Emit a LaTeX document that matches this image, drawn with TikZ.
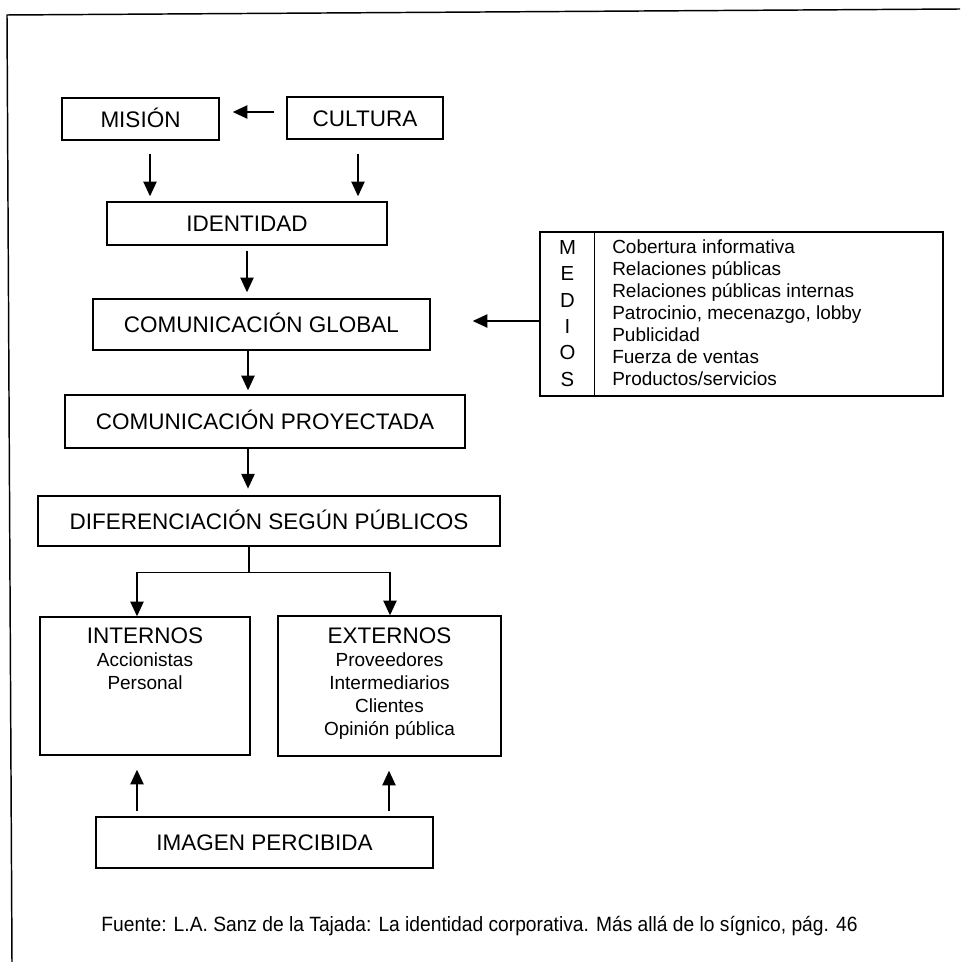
\documentclass[tikz,border=0pt]{standalone}
\usepackage{fontspec}
\usepackage{graphicx}
\setmainfont{Liberation Sans}
\usetikzlibrary{arrows.meta}
\begin{document}
\begin{tikzpicture}[x=0.75pt,y=-0.75pt,
  box/.style={draw, line width=1.1pt, inner sep=0pt, text height=12.1pt, text depth=0pt, font=\fontsize{16.875}{20}\selectfont},
  arr/.style={line width=1pt, -{Triangle[length=11pt,width=10pt]}},
  ln/.style={line width=1pt},
  item/.style={inner sep=0pt, text height=10.2pt, text depth=0pt, font=\fontsize{14.25}{17}\selectfont},
  title/.style={inner sep=0pt, text height=12.1pt, text depth=0pt, font=\fontsize{16.875}{20}\selectfont},
  letter/.style={inner sep=0pt, text height=11pt, text depth=0pt, font=\fontsize{15.25}{18}\selectfont}
]
\useasboundingbox (0,0) rectangle (960,962);
\draw[line width=1.1pt] (12,962) -- (7,15) -- (960,9);

\node[box, minimum width=117.75pt, minimum height=31.5pt] (mision) at (140.5,119) {MISIÓN};
\node[box, minimum width=117pt, minimum height=31.5pt] (cultura) at (365,118) {CULTURA};
\node[box, minimum width=210pt, minimum height=32.25pt] (identidad) at (247,223.5) {IDENTIDAD};
\node[box, minimum width=252.75pt, minimum height=38.25pt] (global) at (261.5,324.5) {COMUNICACIÓN GLOBAL};
\node[box, minimum width=300pt, minimum height=39.75pt] (proy) at (265,421.5) {COMUNICACIÓN PROYECTADA};
\node[box, minimum width=346.5pt, minimum height=37.5pt] (dif) at (269,521) {DIFERENCIACIÓN SEGÚN PÚBLICOS};
\node[box, minimum width=157.5pt, minimum height=103.5pt] (internos) at (145,686) {};
\node[box, minimum width=167.25pt, minimum height=105pt] (externos) at (389.5,686) {};
\node[box, minimum width=252.75pt, minimum height=38.25pt] (imagen) at (264.5,842.5) {IMAGEN PERCIBIDA};
\node[box, minimum width=302.25pt, minimum height=123pt] (medios) at (741.5,314) {};
\draw[line width=1.1pt] ([xshift=41.25pt]medios.north west) -- ([xshift=41.25pt]medios.south west);

% group texts
\node[title] (tint) at (145,635) {INTERNOS};
\node[item] (i1) at (145,660) {Accionistas};
\node[item] (i2) at (145,683) {Personal};
\node[title] (text) at (389.5,635) {EXTERNOS};
\node[item] (e1) at (389.5,660) {Proveedores};
\node[item] (e2) at (389.5,683) {Intermediarios};
\node[item] (e3) at (389.5,706) {Clientes};
\node[item] (e4) at (389.5,729) {Opinión pública};

% medios
\node[letter] (lm) at (567.5,247) {M};
\node[letter] (le) at (567.5,273.4) {E};
\node[letter] (ld) at (567.5,299.8) {D};
\node[letter] (li) at (567.5,326.2) {I};
\node[letter] (lo) at (567.5,352.6) {O};
\node[letter] (ls) at (567.5,379) {S};
\node[item, anchor=west] (m1) at (612,247) {Cobertura informativa};
\node[item, anchor=west] (m2) at (612,269) {Relaciones públicas};
\node[item, anchor=west] (m3) at (612,291) {Relaciones públicas internas};
\node[item, anchor=west] (m4) at (612,313) {Patrocinio, mecenazgo, lobby};
\node[item, anchor=west] (m5) at (612,335) {Publicidad};
\node[item, anchor=west] (m6) at (612,357) {Fuerza de ventas};
\node[item, anchor=west] (m7) at (612,379) {Productos/servicios};

\node[inner sep=0pt, font=\fontsize{15.5}{18}\selectfont] (fuente) at (479.5,926)
  {\scalebox{0.93}[1]{Fuente: L.A. Sanz de la Tajada: La identidad corporativa. Más allá de lo sígnico, pág. 46}};

% connectors
\draw[arr] ([shift={(-12,-6)}]cultura.west) -- ([shift={(13,-7)}]mision.east);
\coordinate (a1) at ([shift={(9.5,13)}]mision.south);
\draw[arr, shorten >=3.75pt] (a1) -- (a1 |- identidad.north);
\coordinate (a2) at ([shift={(-7,14)}]cultura.south);
\draw[arr, shorten >=3.75pt] (a2) -- (a2 |- identidad.north);
\coordinate (a3) at ([shift={(0,5)}]identidad.south);
\draw[arr, shorten >=4.5pt] (a3) -- (a3 |- global.north);
\coordinate (a4) at ([shift={(-13.5,0)}]global.south);
\draw[arr, shorten >=3pt] (a4) -- (a4 |- proy.north);
\coordinate (a5) at ([shift={(-17,0)}]proy.south);
\draw[arr, shorten >=5pt] (a5) -- (a5 |- dif.north);
\coordinate (a6) at ([shift={(0,7)}]medios.west);
\draw[arr, shorten >=31.5pt] (a6) -- (a6 -| global.east);
\coordinate (sp) at ([shift={(-20,26)}]dif.south);
\draw[ln] ([xshift=-15pt]dif.south) -- (sp);
\draw[arr] (sp) -| ([shift={(-8,0)}]internos.north);
\draw[arr] (sp) -| ([shift={(0.5,0)}]externos.north);
\coordinate (b1) at ([shift={(-127.5,-5)}]imagen.north);
\draw[arr, shorten >=10.5pt] (b1) -- (b1 |- internos.south);
\coordinate (b2) at ([shift={(124.5,-5)}]imagen.north);
\draw[arr, shorten >=10.5pt] (b2) -- (b2 |- externos.south);
\end{tikzpicture}
\end{document}
